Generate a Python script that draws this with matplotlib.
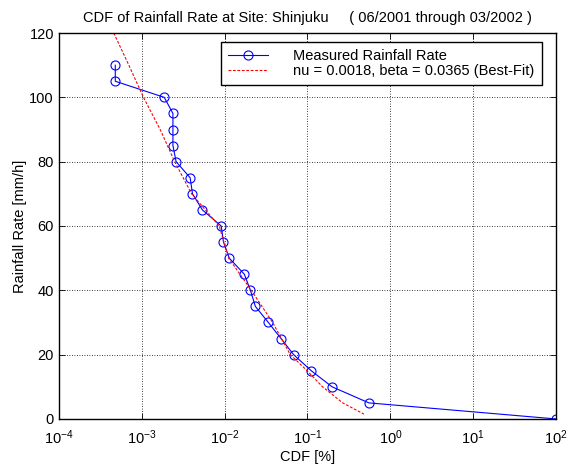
import matplotlib
matplotlib.use("Agg")
import matplotlib.pyplot as plt
import matplotlib.ticker as ticker

# measured CDF [%] vs rain rate [mm/h]
cdf_meas = [4.8e-4, 4.8e-4, 1.87e-3, 2.38e-3, 2.38e-3, 2.38e-3, 2.6e-3, 3.84e-3,
            4.1e-3, 5.4e-3, 9.1e-3, 9.7e-3, 1.14e-2, 1.73e-2, 2.05e-2, 2.35e-2,
            3.37e-2, 4.8e-2, 6.8e-2, 0.111, 0.198, 0.55, 100.0]
rate_meas = [110, 105, 100, 95, 90, 85, 80, 75, 70, 65, 60, 55, 50, 45, 40, 35,
             30, 25, 20, 15, 10, 5, 0]

# best-fit curve
cdf_fit = [4.6e-4, 7.0e-4, 1.05e-3, 1.67e-3, 2.5e-3, 4.0e-3, 8.6e-3, 1.12e-2,
           2.1e-2, 3.8e-2, 6.2e-2, 9.9e-2, 0.152, 0.266, 0.48]
rate_fit = [120, 110, 100, 90, 80, 70, 60, 50, 40, 30, 20, 15, 10, 5, 1.5]

x_ticks = [1e-4, 1e-3, 1e-2, 1e-1, 1e0, 1e1, 1e2]
x_labels = ['$\\mathregular{10^{%d}}$' % e for e in range(-4, 3)]

plt.rcParams['font.family'] = ['Liberation Sans', 'DejaVu Sans']
plt.rcParams['font.size'] = 10.5
plt.rcParams['mathtext.fontset'] = 'custom'
plt.rcParams['mathtext.rm'] = 'Liberation Sans'
plt.rcParams['mathtext.default'] = 'regular'

fig = plt.figure(figsize=[5.71, 4.65], dpi=100)
ax = fig.add_axes([0.103, 0.099, 0.871, 0.830])

ax.plot(cdf_meas, rate_meas, color='b', lw=0.8, marker='o', ms=6.5,
        mfc='none', mec='b', mew=0.8, label='Measured Rainfall Rate')
ax.plot(cdf_fit, rate_fit, color='r', lw=0.8, ls=(0, (2.5, 1.5)),
        label='nu = 0.0018, beta = 0.0365 (Best-Fit)')

ax.set_xscale('log')
ax.set_xlim(1e-4, 1e2)
ax.set_ylim(0, 120)
ax.set_yticks(range(0, 121, 20))
ax.set_xticks(x_ticks)
ax.set_xticklabels(x_labels)
ax.xaxis.set_minor_locator(ticker.NullLocator())
ax.tick_params(direction='in', top=True, right=True, length=4, width=0.6)
ax.tick_params(axis='x', pad=7)
ax.grid(True, color='k', ls=(0, (1, 2)), lw=0.6)
for s in ax.spines.values():
    s.set_linewidth(1.0)

ax.set_xlabel('CDF [%]', labelpad=2)
ax.set_ylabel('Rainfall Rate [mm/h]', labelpad=2)
ax.set_title('CDF of Rainfall Rate at Site: Shinjuku     ( 06/2001 through 03/2002 )',
             fontsize=10.5, pad=8)

leg = ax.legend(loc='upper right', bbox_to_anchor=(0.9714, 0.9767),
                fancybox=False, framealpha=1, edgecolor='k',
                borderpad=0.5, handlelength=2.74, borderaxespad=0,
                handletextpad=1.74, labelspacing=0.05)
leg.get_frame().set_linewidth(1.0)

plt.savefig('out.png', dpi=100)
